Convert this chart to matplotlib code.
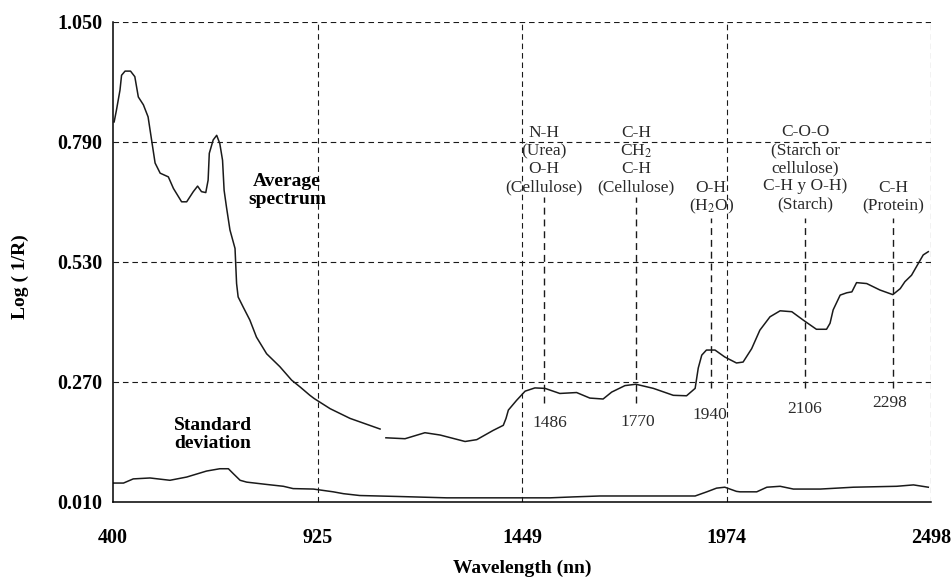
import numpy as np
import matplotlib
matplotlib.use('Agg')
import matplotlib.pyplot as plt

plt.rcParams['font.family'] = ['Liberation Serif', 'DejaVu Serif']
plt.rcParams['mathtext.fontset'] = 'stix'

# average spectrum (gap between the two pieces like in the original)
avg_x = [403, 409, 418, 422, 431, 445, 456, 465, 478, 490, 499, 508, 521, 542, 555,
         576, 589, 606, 617, 627, 638, 644, 647, 657, 666, 674, 681, 685, 691, 700,
         713, 717, 721, 734, 751, 768, 794, 828, 858, 880, 905, 916, 957, 1008, 1085,
         1092,
         1100, 1149, 1200, 1239, 1303, 1333, 1375, 1401, 1408, 1414, 1435, 1457, 1482,
         1508, 1546, 1589, 1623, 1657, 1679, 1713, 1741, 1786, 1837, 1871, 1893, 1901,
         1910, 1922, 1944, 1969, 1999, 2016, 2038, 2059, 2085, 2111, 2141, 2170, 2204,
         2230, 2239, 2247, 2265, 2282, 2295, 2307, 2333, 2367, 2400, 2419, 2431, 2448,
         2465, 2478, 2491]
avg_y = [0.833, 0.859, 0.902, 0.934, 0.943, 0.943, 0.931, 0.887, 0.870, 0.844, 0.794,
         0.744, 0.722, 0.714, 0.689, 0.660, 0.660, 0.682, 0.694, 0.682, 0.680, 0.707,
         0.765, 0.794, 0.804, 0.786, 0.750, 0.685, 0.649, 0.599, 0.559, 0.483, 0.454,
         0.432, 0.404, 0.367, 0.331, 0.303, 0.274, 0.259, 0.241, 0.234, 0.212, 0.191,
         0.168,
         np.nan,
         0.149, 0.147, 0.160, 0.155, 0.141, 0.145, 0.165, 0.176, 0.191, 0.209, 0.230,
         0.250, 0.257, 0.256, 0.245, 0.247, 0.235, 0.233, 0.248, 0.262, 0.265, 0.256,
         0.241, 0.240, 0.256, 0.300, 0.328, 0.339, 0.339, 0.324, 0.311, 0.313, 0.342,
         0.382, 0.411, 0.424, 0.422, 0.404, 0.384, 0.384, 0.397, 0.426, 0.458, 0.463,
         0.465, 0.485, 0.483, 0.469, 0.459, 0.472, 0.487, 0.501, 0.526, 0.545, 0.552]

# standard deviation
std_x = [401, 427, 452, 495, 546, 589, 640, 674, 696, 709, 726, 743, 794, 837, 862,
         914, 965, 991, 1033, 1128, 1256, 1384, 1521, 1580, 1649, 1752, 1893, 1923,
         1948, 1969, 1999, 2008, 2051, 2077, 2111, 2145, 2214, 2299, 2410, 2453, 2491]
std_y = [0.051, 0.051, 0.060, 0.062, 0.057, 0.064, 0.077, 0.082, 0.082, 0.071, 0.057,
         0.053, 0.048, 0.044, 0.039, 0.038, 0.032, 0.028, 0.024, 0.022, 0.019, 0.019,
         0.019, 0.021, 0.023, 0.023, 0.023, 0.032, 0.040, 0.042, 0.033, 0.032, 0.032,
         0.042, 0.044, 0.038, 0.038, 0.042, 0.044, 0.047, 0.042]

x_ticks = [400, 925, 1449, 1974, 2498]
y_ticks = [0.010, 0.270, 0.530, 0.790, 1.050]

# absorption bands: label, where the marker line was drawn, text lines above it
band_names = ['1486', '1770', '1940', '2106', '2298']
band_x = [1506, 1741, 1934, 2175, 2400]
band_num_x = [1521, 1746, 1931, 2173, 2393]
band_num_y = [0.180, 0.183, 0.198, 0.211, 0.224]
band_line_top = [0.670, 0.670, 0.625, 0.625, 0.625]
band_line_bot = [0.224, 0.224, 0.256, 0.256, 0.256]
band_text = [
    ['N-H', '(Urea)', 'O-H', '(Cellulose)'],
    ['C-H', 'CH$_2$', 'C-H', '(Cellulose)'],
    ['O-H', '(H$_2$O)'],
    ['C-O-O', '(Starch or', 'cellulose)', 'C-H y O-H)', '(Starch)'],
    ['C-H', '(Protein)'],
]
band_text_top = [0.809, 0.809, 0.690, 0.811, 0.690]

ink = '#1a1a1a'
fig = plt.figure(figsize=(9.51, 5.77), dpi=100)
ax = fig.add_axes([0.1188, 0.130, 0.979 - 0.1188, 0.9624 - 0.130])

ax.plot(avg_x, avg_y, color=ink, lw=1.1)
ax.plot(std_x, std_y, color=ink, lw=1.1)

ax.set_xlim(400, 2498)
ax.set_ylim(0.010, 1.050)
ax.set_xticks(x_ticks)
ax.set_yticks(y_ticks)
ax.set_xticklabels([str(v) for v in x_ticks])
ax.set_yticklabels(['%.3f' % v for v in y_ticks])
ax.tick_params(length=0, labelsize=14.5)
ax.tick_params(axis='x', pad=18.5)
ax.tick_params(axis='y', pad=7.5)
for lab in ax.get_xticklabels() + ax.get_yticklabels():
    lab.set_fontweight('bold')

ax.spines['top'].set_visible(False)
ax.spines['right'].set_visible(False)
ax.spines['left'].set_linewidth(1.1)
ax.spines['bottom'].set_linewidth(1.1)

# dashed grid, also closes the box at top/right
for v in y_ticks[1:]:
    ax.axhline(v, color=ink, lw=0.8, dashes=(5, 3.5), zorder=0)
for v in x_ticks[1:]:
    ax.axvline(v, color=ink, lw=0.8, dashes=(5, 3.5), zorder=0)

ax.set_xlabel('Wavelength (nn)', fontsize=14, fontweight='bold', labelpad=9)
fig.text(20 / 951, 1 - 277 / 577, 'Log ( 1/R)', fontsize=14, fontweight='bold',
         rotation=90, ha='center', va='center')

step = 18 / 461.5
for i, name in enumerate(band_names):
    ax.plot([band_x[i], band_x[i]], [band_line_bot[i], band_line_top[i]],
            color=ink, lw=1.0, dashes=(5, 3.5))
    ax.text(band_num_x[i], band_num_y[i], name, fontsize=12.5, color='#2a2a2a',
            ha='center', va='center')
    for j, line in enumerate(band_text[i]):
        ax.text(band_x[i], band_text_top[i] - j * step, line, fontsize=12.5,
                color='#2a2a2a', ha='center', va='center')

ax.text(846, 0.703, 'Average', fontsize=14, fontweight='bold', ha='center', va='center')
ax.text(846, 0.664, 'spectrum', fontsize=14, fontweight='bold', ha='center', va='center')
ax.text(656, 0.176, 'Standard', fontsize=14, fontweight='bold', ha='center', va='center')
ax.text(656, 0.137, 'deviation', fontsize=14, fontweight='bold', ha='center', va='center')

fig.savefig('out.png', dpi=100)
